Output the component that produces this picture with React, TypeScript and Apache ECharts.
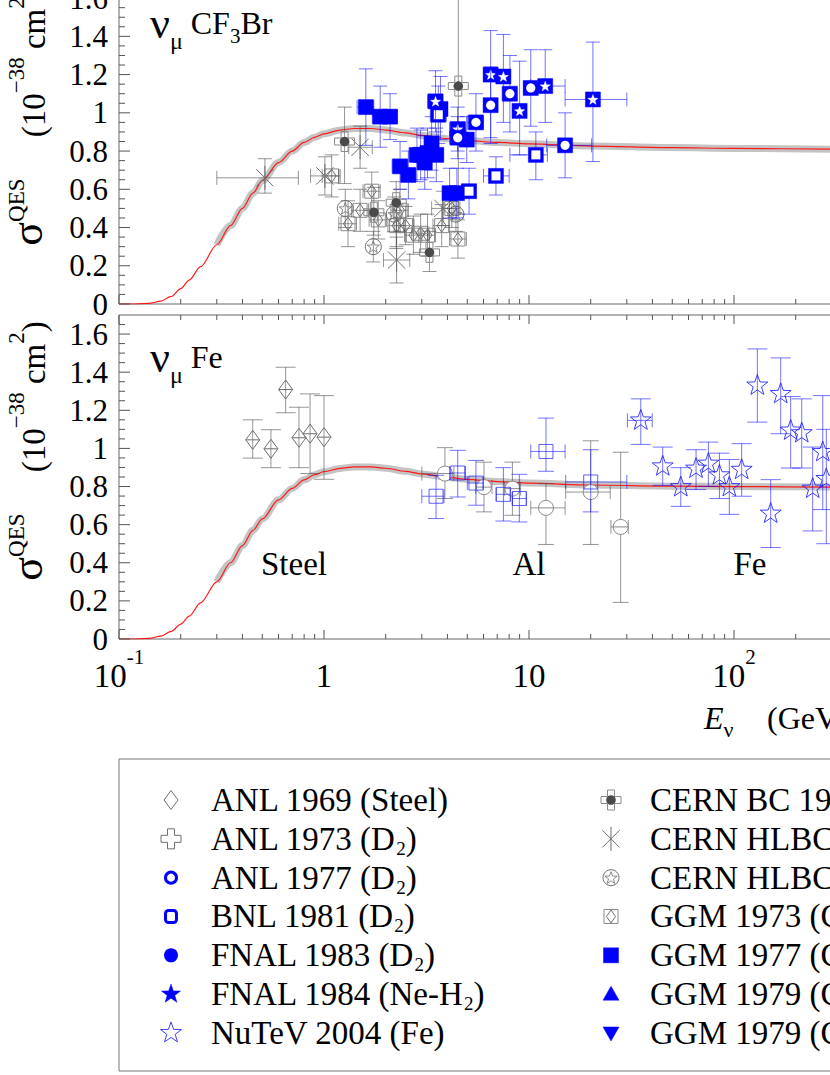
import React, { useEffect, useRef } from "react";
import * as echarts from "echarts";

// ---------------- data ----------------
const curveE = [0.1, 0.12, 0.14, 0.16, 0.18, 0.2, 0.22, 0.25, 0.3, 0.35, 0.4, 0.45, 0.5, 0.6, 0.7, 0.8, 0.9, 1.0, 1.2, 1.4, 1.7, 2.0, 2.5, 3.0, 4.0, 5.0, 7.0, 10, 20, 50, 100, 300, 1000];
const curveTop = [0, 0, 0.003, 0.015, 0.04, 0.08, 0.125, 0.195, 0.31, 0.41, 0.5, 0.58, 0.645, 0.74, 0.8, 0.845, 0.872, 0.89, 0.91, 0.918, 0.918, 0.91, 0.895, 0.882, 0.865, 0.855, 0.845, 0.838, 0.826, 0.818, 0.814, 0.81, 0.806];
const curveBottom = [0, 0, 0.003, 0.015, 0.04, 0.078, 0.12, 0.19, 0.3, 0.4, 0.49, 0.57, 0.63, 0.73, 0.79, 0.835, 0.862, 0.878, 0.895, 0.903, 0.903, 0.896, 0.88, 0.866, 0.848, 0.838, 0.826, 0.818, 0.808, 0.802, 0.8, 0.797, 0.794];

// top panel (CF3Br)
const hlbcAE = [0.515, 1.01, 1.5, 2.26, 3.8];
const hlbcAS = [0.66, 0.67, 0.82, 0.23, 0.5];
const hlbcALo = [0.58, 0.57, 0.71, 0.11, 0.41];
const hlbcAHi = [0.76, 0.77, 0.93, 0.35, 0.59];
const hlbcAELo = [0.3, 0.86, 1.32, 1.95, 3.35];
const hlbcAEHi = [0.75, 1.18, 1.72, 2.62, 4.3];

const cernBCE = [1.26, 1.75, 2.25, 3.27, 4.52];
const cernBCS = [0.85, 0.48, 0.53, 0.27, 1.14];
const cernBCLo = [0.63, 0.36, 0.29, 0.17, 0.47];
const cernBCHi = [1.03, 0.61, 0.64, 0.38, 1.85];

const hlbcBE = [1.27, 1.74, 2.2, 4.4];
const hlbcBS = [0.5, 0.3, 0.47, 0.47];
const hlbcBLo = [0.4, 0.22, 0.38, 0.38];
const hlbcBHi = [0.6, 0.38, 0.56, 0.56];

const ggm73E = [1.09, 1.31, 1.5, 1.71, 1.84, 2.26, 2.35, 2.5, 2.73, 2.96, 3.2, 3.75, 4.2, 4.5];
const ggm73S = [0.67, 0.42, 0.49, 0.59, 0.44, 0.41, 0.49, 0.41, 0.36, 0.37, 0.36, 0.41, 0.5, 0.34];
const ggm73Lo = [0.56, 0.3, 0.38, 0.49, 0.34, 0.3, 0.38, 0.31, 0.26, 0.27, 0.25, 0.3, 0.4, 0.24];
const ggm73Hi = [0.78, 0.54, 0.6, 0.69, 0.54, 0.52, 0.6, 0.51, 0.46, 0.47, 0.47, 0.52, 0.6, 0.44];
const ggm73ELo = [0.98, 1.18, 1.36, 1.55, 1.66, 2.05, 2.12, 2.26, 2.47, 2.68, 2.9, 3.4, 3.8, 4.1];
const ggm73EHi = [1.2, 1.44, 1.65, 1.88, 2.02, 2.48, 2.58, 2.75, 3.0, 3.25, 3.5, 4.1, 4.6, 4.95];

const ggm77E = [1.6, 1.88, 2.1, 2.35, 2.58, 2.84, 2.96, 3.1, 3.2, 3.35, 3.53, 3.7, 4.1, 4.45, 4.97];
const ggm77S = [1.03, 0.98, 0.98, 0.72, 0.675, 0.78, 0.78, 0.74, 0.79, 0.84, 0.78, 1.02, 0.58, 0.58, 0.86];
const ggm77Lo = [0.83, 0.82, 0.86, 0.6, 0.55, 0.64, 0.65, 0.6, 0.66, 0.7, 0.64, 0.86, 0.45, 0.45, 0.74];
const ggm77Hi = [1.23, 1.14, 1.1, 0.85, 0.8, 0.92, 0.91, 0.88, 0.92, 0.98, 0.92, 1.19, 0.71, 0.71, 0.98];
const ggm77ELo = [1.45, 1.72, 1.93, 2.15, 2.37, 2.6, 2.72, 2.85, 2.95, 3.08, 3.25, 3.4, 3.78, 4.1, 4.6];
const ggm77EHi = [1.75, 2.04, 2.28, 2.55, 2.8, 3.08, 3.2, 3.35, 3.45, 3.62, 3.8, 4.0, 4.42, 4.8, 5.35];

const sqStarE = [3.5, 4.49, 6.5, 7.5, 9.0, 12.0, 20.5];
const sqStarS = [1.06, 0.915, 1.2, 1.19, 1.01, 1.14, 1.07];
const sqStarLo = [0.9, 0.8, 0.87, 0.95, 0.78, 0.95, 0.745];
const sqStarHi = [1.22, 1.03, 1.43, 1.41, 1.27, 1.33, 1.37];
const sqStarELo = [3.2, 4.1, 6.0, 6.9, 8.3, 10.2, 15.0];
const sqStarEHi = [3.8, 4.9, 7.0, 8.1, 9.7, 15.0, 30.0];

const sqCircE = [4.49, 5.51, 6.5, 8.07, 10.2, 15.0];
const sqCircS = [0.87, 0.95, 1.04, 1.1, 1.13, 0.83];
const sqCircLo = [0.76, 0.8, 0.84, 0.9, 0.93, 0.66];
const sqCircHi = [0.98, 1.1, 1.24, 1.3, 1.33, 1.0];
const sqCircELo = [4.1, 5.0, 6.0, 7.4, 9.4, 12.2];
const sqCircEHi = [4.9, 6.0, 7.0, 8.7, 11.0, 20.2];

const sqSqE = [3.61, 5.1, 6.9, 10.8];
const sqSqS = [0.99, 0.59, 0.67, 0.78];
const sqSqLo = [0.84, 0.47, 0.57, 0.65];
const sqSqHi = [1.14, 0.71, 0.77, 0.9];
const sqSqELo = [3.3, 4.7, 6.0, 8.07];
const sqSqEHi = [3.95, 5.5, 8.0, 12.3];

// bottom panel (Fe)
const anl69E = [0.449, 0.551, 0.65, 0.755, 0.855, 1.0];
const anl69S = [1.045, 0.998, 1.309, 1.056, 1.077, 1.059];
const anl69Lo = [0.949, 0.899, 1.187, 0.899, 0.868, 0.838];
const anl69Hi = [1.15, 1.098, 1.426, 1.216, 1.286, 1.277];

const alCircE = [3.89, 6.03, 8.3, 12.1, 20.0, 28.0];
const alCircS = [0.868, 0.797, 0.789, 0.688, 0.771, 0.588];
const alCircLo = [0.737, 0.667, 0.649, 0.496, 0.496, 0.192];
const alCircHi = [1.004, 0.928, 0.928, 0.815, 1.04, 0.98];
const alCircELo = [3.0, 5.5, 7.6, 10.2, 15.1, 25.1];
const alCircEHi = [4.3, 6.6, 9.1, 15.0, 24.9, 30.5];

const alSqE = [3.52, 4.49, 5.51, 7.5, 8.97, 12.1, 20.0];
const alSqS = [0.749, 0.871, 0.818, 0.759, 0.737, 0.984, 0.824];
const alSqLo = [0.632, 0.745, 0.702, 0.619, 0.614, 0.88, 0.667];
const alSqHi = [0.859, 0.99, 0.937, 0.899, 0.864, 1.159, 0.993];
const alSqELo = [3.0, 4.1, 5.0, 6.9, 8.3, 10.2, 15.1];
const alSqEHi = [3.85, 4.9, 6.0, 8.1, 9.7, 15.0, 30.0];

const nutevE = [35.1, 44.9, 55, 65.3, 75, 84.9, 94.9, 109, 130, 151, 169, 189, 214, 242, 271, 282];
const nutevS = [1.147, 0.906, 0.797, 0.894, 0.92, 0.859, 0.797, 0.888, 1.33, 0.658, 1.286, 1.094, 1.08, 0.789, 0.981, 0.84];
const nutevLo = [1.021, 0.806, 0.696, 0.784, 0.801, 0.737, 0.654, 0.749, 1.138, 0.48, 1.077, 0.897, 0.897, 0.567, 0.679, 0.5];
const nutevHi = [1.26, 1.007, 0.899, 0.993, 1.033, 0.975, 0.942, 1.025, 1.522, 0.836, 1.475, 1.272, 1.26, 1.007, 1.277, 1.1];
const nutevELo = [30.2, null, null, null, null, null, null, null, null, null, null, null, null, null, null, null];
const nutevEHi = [39.9, null, null, null, null, null, null, null, null, null, null, null, null, null, null, null];

// ticks
const xMajorTicks = [0.1, 1, 10, 100, 1000];
const xMinorTicks = [0.2, 0.3, 0.4, 0.5, 0.6, 0.7, 0.8, 0.9, 2, 3, 4, 5, 6, 7, 8, 9, 20, 30, 40, 50, 60, 70, 80, 90, 200, 300, 400, 500, 600, 700, 800, 900];
const yMajorTicks = [0, 0.2, 0.4, 0.6, 0.8, 1.0, 1.2, 1.4, 1.6];
const yMinorTicks = [0.05, 0.1, 0.15, 0.25, 0.3, 0.35, 0.45, 0.5, 0.55, 0.65, 0.7, 0.75, 0.85, 0.9, 0.95, 1.05, 1.1, 1.15, 1.25, 1.3, 1.35, 1.45, 1.5, 1.55, 1.65];

// legend
const legendLeftLabels = [
  "{t|ANL 1969 (Steel)}",
  "{t|ANL 1973 (D}{s|2}{t|)}",
  "{t|ANL 1977 (D}{s|2}{t|)}",
  "{t|BNL 1981 (D}{s|2}{t|)}",
  "{t|FNAL 1983 (D}{s|2}{t|)}",
  "{t|FNAL 1984 (Ne-H}{s|2}{t|)}",
  "{t|NuTeV 2004 (Fe)}",
];
const legendLeftKinds = ["diamond", "plus", "ring", "roundSquare", "dot", "starFill", "starOpen"];
const legendRightLabels = [
  "{t|CERN BC 1964 (CF}{s|3}{t|Br)}",
  "{t|CERN HLBC 1964 (CF}{s|3}{t|Br)}",
  "{t|CERN HLBC 1967 (CF}{s|3}{t|Br)}",
  "{t|GGM 1973 (C}{s|3}{t|H}{s|8}{t|-CF}{s|3}{t|Br)}",
  "{t|GGM 1977 (CF}{s|3}{t|Br)}",
  "{t|GGM 1979 (C}{s|3}{t|H}{s|8}{t|-CF}{s|3}{t|Br)}",
  "{t|GGM 1979 (C}{s|3}{t|H}{s|8}{t|-CF}{s|3}{t|Br)}",
];
const legendRightKinds = ["crossDot", "asterisk", "circleStar", "squareDiamond", "squareFill", "triUp", "triDown"];

// ---------------- drawing helpers ----------------
const FONT = '"Liberation Serif", "Times New Roman", Times, serif';
const OFF = 40; // chart y = page y + OFF
const BLUE = "#0000ff";
const MG = "#6f6f6f";
const GRAY_BAR = "rgba(80,80,80,0.6)";
const BLUE_BAR = "rgba(0,0,255,0.55)";

function ln(x1: number, y1: number, x2: number, y2: number, color: string, w = 1) {
  return { type: "line", shape: { x1, y1, x2, y2 }, style: { stroke: color, lineWidth: w, fill: "none" } };
}
function poly(points: number[][], fill: string, stroke: string, w = 1) {
  return { type: "polygon", shape: { points }, style: { fill, stroke, lineWidth: w } };
}
function starPts(cx: number, cy: number, R: number, r: number) {
  const pts: number[][] = [];
  for (let k = 0; k < 10; k++) {
    const a = -Math.PI / 2 + (k * Math.PI) / 5;
    const rr = k % 2 === 0 ? R : r;
    pts.push([cx + rr * Math.cos(a), cy + rr * Math.sin(a)]);
  }
  return pts;
}
function plusPts(cx: number, cy: number, R: number, a: number) {
  return [
    [cx - a, cy - R], [cx + a, cy - R], [cx + a, cy - a], [cx + R, cy - a], [cx + R, cy + a], [cx + a, cy + a],
    [cx + a, cy + R], [cx - a, cy + R], [cx - a, cy + a], [cx - R, cy + a], [cx - R, cy - a], [cx - a, cy - a],
  ];
}
function diamondPts(cx: number, cy: number, hw: number, hh: number) {
  return [[cx, cy - hh], [cx + hw, cy], [cx, cy + hh], [cx - hw, cy]];
}
function sqFill(cx: number, cy: number) {
  return { type: "rect", shape: { x: cx - 7.5, y: cy - 7.5, width: 15, height: 15 }, style: { fill: BLUE, stroke: BLUE, lineWidth: 0.5 } };
}

function marker(kind: string, cx: number, cy: number): any[] {
  switch (kind) {
    case "diamond":
      return [poly(diamondPts(cx, cy, 7, 9.5), "none", MG, 1)];
    case "diamondCross":
      return [poly(diamondPts(cx, cy, 7, 9.5), "none", MG, 1), ln(cx - 7, cy, cx + 7, cy, MG)];
    case "plus":
      return [poly(plusPts(cx, cy, 10, 3.5), "none", MG, 1)];
    case "ring":
      return [{ type: "circle", shape: { cx, cy, r: 5.5 }, style: { fill: "none", stroke: BLUE, lineWidth: 3 } }];
    case "roundSquare":
      return [{ type: "rect", shape: { x: cx - 5.5, y: cy - 6, width: 11, height: 12, r: 3 }, style: { fill: "none", stroke: BLUE, lineWidth: 3 } }];
    case "dot":
      return [{ type: "circle", shape: { cx, cy, r: 7 }, style: { fill: BLUE, stroke: BLUE, lineWidth: 0 } }];
    case "starFill":
      return [poly(starPts(cx, cy, 10, 4), BLUE, BLUE, 0.5)];
    case "starOpen":
      return [poly(starPts(cx, cy, 11, 4.4), "none", "rgba(30,30,255,0.85)", 1)];
    case "crossDot":
      return [
        poly(plusPts(cx, cy, 10, 3.5), "none", "#8a8a8a", 1),
        { type: "circle", shape: { cx, cy, r: 4.8 }, style: { fill: "#4a4a4a", stroke: "#4a4a4a", lineWidth: 0 } },
      ];
    case "asterisk": {
      const R = 12;
      const d = R * 0.72;
      return [ln(cx, cy - R, cx, cy + R, MG), ln(cx - d, cy - d, cx + d, cy + d, MG), ln(cx - d, cy + d, cx + d, cy - d, MG)];
    }
    case "circleStar":
      return [
        { type: "circle", shape: { cx, cy, r: 8 }, style: { fill: "none", stroke: MG, lineWidth: 1 } },
        poly(starPts(cx, cy + 0.5, 6.5, 2.6), "none", MG, 0.8),
      ];
    case "squareDiamond":
      return [
        { type: "rect", shape: { x: cx - 7, y: cy - 7, width: 14, height: 14 }, style: { fill: "none", stroke: "#8a8a8a", lineWidth: 1 } },
        poly(diamondPts(cx, cy, 4.5, 6.5), "none", MG, 1),
      ];
    case "squareFill":
      return [sqFill(cx, cy)];
    case "triUp":
      return [poly([[cx, cy - 8], [cx + 8, cy + 6], [cx - 8, cy + 6]], BLUE, BLUE, 0.5)];
    case "triDown":
      return [poly([[cx, cy + 8], [cx + 8, cy - 6], [cx - 8, cy - 6]], BLUE, BLUE, 0.5)];
    case "sqStar":
      return [sqFill(cx, cy), poly(starPts(cx, cy + 0.5, 5.5, 2.3), "#ffffff", "#ffffff", 0.3)];
    case "sqCircle":
      return [sqFill(cx, cy), { type: "circle", shape: { cx, cy, r: 4.6 }, style: { fill: "#ffffff", stroke: "#ffffff", lineWidth: 0 } }];
    case "sqSquare":
      return [sqFill(cx, cy), { type: "rect", shape: { x: cx - 4.5, y: cy - 4.5, width: 9, height: 9 }, style: { fill: "#ffffff", stroke: "#ffffff", lineWidth: 0 } }];
    case "circleLine":
      return [
        { type: "circle", shape: { cx, cy, r: 7.5 }, style: { fill: "#ffffff", stroke: "#8a8a8a", lineWidth: 1 } },
        ln(cx - 7.5, cy, cx + 7.5, cy, "#8a8a8a"),
      ];
    case "squareOpen":
      return [{ type: "rect", shape: { x: cx - 7, y: cy - 7, width: 14, height: 14 }, style: { fill: "none", stroke: "rgba(40,40,255,0.75)", lineWidth: 1 } }];
  }
  return [];
}

const okNum = (v: any) => typeof v === "number" && Number.isFinite(v) && v > 0;

function pointSeries(
  name: string, kind: string, grid: number,
  E: number[], S: number[], lo: number[], hi: number[],
  eLo: (number | null)[] | null, eHi: (number | null)[] | null,
  barColor: string, capV: number
) {
  return {
    type: "custom",
    name,
    xAxisIndex: grid,
    yAxisIndex: grid,
    clip: true,
    silent: true,
    z: 5,
    encode: { x: 0, y: 1 },
    data: E.map((e, i) => [e, S[i], lo[i], hi[i], eLo ? eLo[i] : null, eHi ? eHi[i] : null]),
    renderItem: (params: any, api: any) => {
      const x = api.value(0);
      const y = api.value(1);
      const l = api.value(2);
      const h = api.value(3);
      const xl = api.value(4);
      const xh = api.value(5);
      const p = api.coord([x, y]);
      const ch: any[] = [];
      if (okNum(l) && okNum(h)) {
        const yl = api.coord([x, l])[1];
        const yh = api.coord([x, h])[1];
        ch.push(ln(p[0], yl, p[0], yh, barColor));
        ch.push(ln(p[0] - capV, yl, p[0] + capV, yl, barColor));
        ch.push(ln(p[0] - capV, yh, p[0] + capV, yh, barColor));
      }
      if (okNum(xl) && okNum(xh)) {
        const x1 = api.coord([xl, y])[0];
        const x2 = api.coord([xh, y])[0];
        ch.push(ln(x1, p[1], x2, p[1], barColor));
        ch.push(ln(x1, p[1] - 7, x1, p[1] + 7, barColor));
        ch.push(ln(x2, p[1] - 7, x2, p[1] + 7, barColor));
      }
      ch.push(...marker(kind, p[0], p[1]));
      return { type: "group", children: ch };
    },
  };
}

function tickSeries(grid: number) {
  const data = [
    ...xMajorTicks.map((v) => [v, 0.5, 0, 1]),
    ...xMinorTicks.map((v) => [v, 0.5, 0, 0]),
    ...yMajorTicks.map((v) => [1, v, 1, 1]),
    ...yMinorTicks.map((v) => [1, v, 1, 0]),
  ];
  return {
    type: "custom",
    xAxisIndex: grid,
    yAxisIndex: grid,
    silent: true,
    clip: false,
    z: 8,
    encode: { x: 0, y: 1 },
    data,
    renderItem: (params: any, api: any) => {
      const cs = params.coordSys;
      const isY = api.value(2) === 1;
      const major = api.value(3) === 1;
      const c = "#555555";
      if (!isY) {
        const len = major ? 9 : 5;
        const px = api.coord([api.value(0), 1])[0];
        const b = cs.y + cs.height;
        return { type: "group", children: [ln(px, b, px, b - len, c), ln(px, cs.y, px, cs.y + len, c)] };
      }
      const len = major ? 11 : 6;
      const py = api.coord([1, api.value(1)])[1];
      return ln(cs.x, py, cs.x + len, py, c);
    },
  };
}

function curveSeries(grid: number, values: number[]) {
  const all = curveE.map((e, i) => [e, values[i]]);
  const band = all.filter((p) => p[0] >= 0.3);
  return [
    {
      type: "line", xAxisIndex: grid, yAxisIndex: grid, data: band, showSymbol: false, smooth: 0.3, smoothMonotone: "x",
      lineStyle: { color: "#c4c4c4", width: 7 }, silent: true, z: 2,
    },
    {
      type: "line", xAxisIndex: grid, yAxisIndex: grid, data: all, showSymbol: false, smooth: 0.3, smoothMonotone: "x",
      lineStyle: { color: "#ff1a1a", width: 1.2 }, silent: true, z: 3,
    },
  ];
}

// ---------------- graphic texts ----------------
const yTitleRich = {
  g: { fontSize: 44, fontFamily: FONT, lineHeight: 58, verticalAlign: "top", fill: "#000", color: "#000" },
  m: { fontSize: 33, fontFamily: FONT, lineHeight: 58, verticalAlign: "middle", fill: "#000", color: "#000" },
  s: { fontSize: 23, fontFamily: FONT, lineHeight: 23, verticalAlign: "top", fill: "#000", color: "#000" },
};
const yTitleText = "{g|σ}{s|QES}{m|     (10}{s|−38}{m| cm}{s|2}{m|)}";

const panelRich = {
  n: { fontSize: 44, fontFamily: FONT, lineHeight: 60, verticalAlign: "middle", fill: "#000", color: "#000" },
  u: { fontSize: 24, fontFamily: FONT, lineHeight: 24, verticalAlign: "bottom", fill: "#000", color: "#000" },
  m: { fontSize: 32, fontFamily: FONT, lineHeight: 60, verticalAlign: "middle", fill: "#000", color: "#000" },
  d: { fontSize: 21, fontFamily: FONT, lineHeight: 21, verticalAlign: "bottom", padding: [0, 0, 7, 0], fill: "#000", color: "#000" },
};

const legendRich = {
  t: { fontSize: 33, fontFamily: FONT, lineHeight: 38, verticalAlign: "middle", fill: "#000", color: "#000" },
  s: { fontSize: 19, fontFamily: FONT, lineHeight: 19, verticalAlign: "bottom", fill: "#000", color: "#000" },
};

function richText(x: number, y: number, text: string, rich: any, align = "left", rotation = 0) {
  return {
    type: "text",
    x,
    y,
    rotation,
    silent: true,
    z: 20,
    style: { text, rich, align, textAlign: align, verticalAlign: "middle", textVerticalAlign: "middle", fill: "#000" },
  };
}
function plainText(x: number, y: number, text: string, size: number, align = "center", italic = false) {
  return {
    type: "text",
    x,
    y,
    silent: true,
    z: 20,
    style: {
      text, fontSize: size, fontFamily: FONT, fontStyle: italic ? "italic" : "normal", fill: "#000",
      align, textAlign: align, verticalAlign: "middle", textVerticalAlign: "middle",
    },
  };
}

function buildGraphic() {
  const els: any[] = [];
  // y-axis titles
  els.push(richText(34, 116 + OFF, yTitleText, yTitleRich, "center", Math.PI / 2));
  els.push(richText(34, 451 + OFF, yTitleText, yTitleRich, "center", Math.PI / 2));
  // panel titles
  els.push(richText(150, 23 + OFF, "{n|ν}{u|μ}{m| CF}{d|3}{m|Br}", panelRich, "left"));
  els.push(richText(150, 357 + OFF, "{n|ν}{u|μ}{m| Fe}", panelRich, "left"));
  // target labels
  els.push(plainText(294, 564 + OFF, "Steel", 33));
  els.push(plainText(529, 564 + OFF, "Al", 33));
  els.push(plainText(750, 564 + OFF, "Fe", 33));
  // x title
  els.push(
    richText(704, 718 + OFF, "{e|E}{u|ν}", {
      e: { fontSize: 32, fontFamily: FONT, fontStyle: "italic", lineHeight: 44, verticalAlign: "middle", fill: "#000" },
      u: { fontSize: 22, fontFamily: FONT, lineHeight: 22, verticalAlign: "bottom", fill: "#000" },
    }, "left")
  );
  els.push(plainText(767, 718 + OFF, "(GeV)", 32, "left"));
  // legend box
  els.push({ type: "rect", silent: true, z: 19, shape: { x: 119, y: 759 + OFF, width: 900, height: 312 }, style: { fill: "none", stroke: "#777", lineWidth: 1 } });
  const rowStep = 38.83;
  legendLeftLabels.forEach((lab, i) => {
    const y = 800 + i * rowStep + OFF;
    marker(legendLeftKinds[i], 171, y).forEach((m) => els.push({ ...m, silent: true, z: 20 }));
    els.push(richText(211, y, lab, legendRich, "left"));
  });
  legendRightLabels.forEach((lab, i) => {
    const y = 800 + i * rowStep + OFF;
    marker(legendRightKinds[i], 611, y).forEach((m) => els.push({ ...m, silent: true, z: 20 }));
    els.push(richText(650, y, lab, legendRich, "left"));
  });
  return els;
}

// ---------------- component ----------------
export default function App() {
  const ref = useRef<HTMLDivElement>(null);
  useEffect(() => {
    if (!ref.current) return;
    const chart = echarts.init(ref.current, undefined, { renderer: "svg" });
    const xLabel = {
      show: true,
      margin: 7,
      fontFamily: FONT,
      fontSize: 33,
      color: "#000",
      formatter: (v: number) => {
        const p = Math.round(Math.log10(v));
        if (p === 0) return "{a|1}";
        if (p === 1) return "{a|10}";
        return "{a|10}{s|" + p + "}";
      },
      rich: {
        a: { fontSize: 33, fontFamily: FONT, lineHeight: 60, verticalAlign: "middle", color: "#000" },
        s: { fontSize: 21, fontFamily: FONT, lineHeight: 21, verticalAlign: "top", color: "#000" },
      },
    };
    const yLabel = {
      show: true,
      margin: 11,
      fontFamily: FONT,
      fontSize: 31,
      color: "#000",
      showMaxLabel: false,
      formatter: (v: number) => (v > 1.65 ? "" : String(+v.toFixed(1))),
    };
    const option: any = {
      animation: false,
      backgroundColor: "#ffffff",
      grid: [
        { left: 119, top: 19, width: 820, height: 325, show: true, borderColor: "#666", borderWidth: 1, backgroundColor: "transparent" },
        { left: 119, top: 355, width: 820, height: 324, show: true, borderColor: "#666", borderWidth: 1, backgroundColor: "transparent" },
      ],
      xAxis: [0, 1].map((g) => ({
        type: "log", logBase: 10, min: 0.1, max: 1000, gridIndex: g,
        axisLine: { show: false }, axisTick: { show: false }, splitLine: { show: false }, minorTick: { show: false },
        axisLabel: g === 1 ? xLabel : { show: false },
      })),
      yAxis: [0, 1].map((g) => ({
        type: "value", min: 0, max: 1.7, interval: 0.2, gridIndex: g,
        axisLine: { show: false }, axisTick: { show: false }, splitLine: { show: false },
        axisLabel: yLabel,
      })),
      series: [
        ...curveSeries(0, curveTop),
        ...curveSeries(1, curveBottom),
        pointSeries("GGM 1973", "squareDiamond", 0, ggm73E, ggm73S, ggm73Lo, ggm73Hi, ggm73ELo, ggm73EHi, GRAY_BAR, 7),
        pointSeries("CERN HLBC 1967", "circleStar", 0, hlbcBE, hlbcBS, hlbcBLo, hlbcBHi, null, null, GRAY_BAR, 7),
        pointSeries("CERN HLBC 1964", "asterisk", 0, hlbcAE, hlbcAS, hlbcALo, hlbcAHi, hlbcAELo, hlbcAEHi, GRAY_BAR, 7),
        pointSeries("CERN BC", "crossDot", 0, cernBCE, cernBCS, cernBCLo, cernBCHi, null, null, GRAY_BAR, 7),
        pointSeries("GGM 1977", "squareFill", 0, ggm77E, ggm77S, ggm77Lo, ggm77Hi, ggm77ELo, ggm77EHi, BLUE_BAR, 7),
        pointSeries("sqSquare", "sqSquare", 0, sqSqE, sqSqS, sqSqLo, sqSqHi, sqSqELo, sqSqEHi, BLUE_BAR, 7),
        pointSeries("sqStar", "sqStar", 0, sqStarE, sqStarS, sqStarLo, sqStarHi, sqStarELo, sqStarEHi, BLUE_BAR, 7),
        pointSeries("sqCircle", "sqCircle", 0, sqCircE, sqCircS, sqCircLo, sqCircHi, sqCircELo, sqCircEHi, BLUE_BAR, 7),
        pointSeries("ANL 1969", "diamondCross", 1, anl69E, anl69S, anl69Lo, anl69Hi, null, null, GRAY_BAR, 10),
        pointSeries("Al circles", "circleLine", 1, alCircE, alCircS, alCircLo, alCircHi, alCircELo, alCircEHi, GRAY_BAR, 8),
        pointSeries("Al squares", "squareOpen", 1, alSqE, alSqS, alSqLo, alSqHi, alSqELo, alSqEHi, BLUE_BAR, 8),
        pointSeries("NuTeV 2004", "starOpen", 1, nutevE, nutevS, nutevLo, nutevHi, nutevELo, nutevEHi, BLUE_BAR, 10),
        tickSeries(0),
        tickSeries(1),
      ],
      graphic: buildGraphic(),
    };
    chart.setOption(option);
    return () => chart.dispose();
  }, []);
  return (
    <div style={{ position: "fixed", left: 0, top: 0, width: 830, height: 1075, overflow: "hidden", background: "#fff" }}>
      <div ref={ref} style={{ position: "absolute", left: 0, top: -OFF, width: 1050, height: 1075 + OFF }} />
    </div>
  );
}
